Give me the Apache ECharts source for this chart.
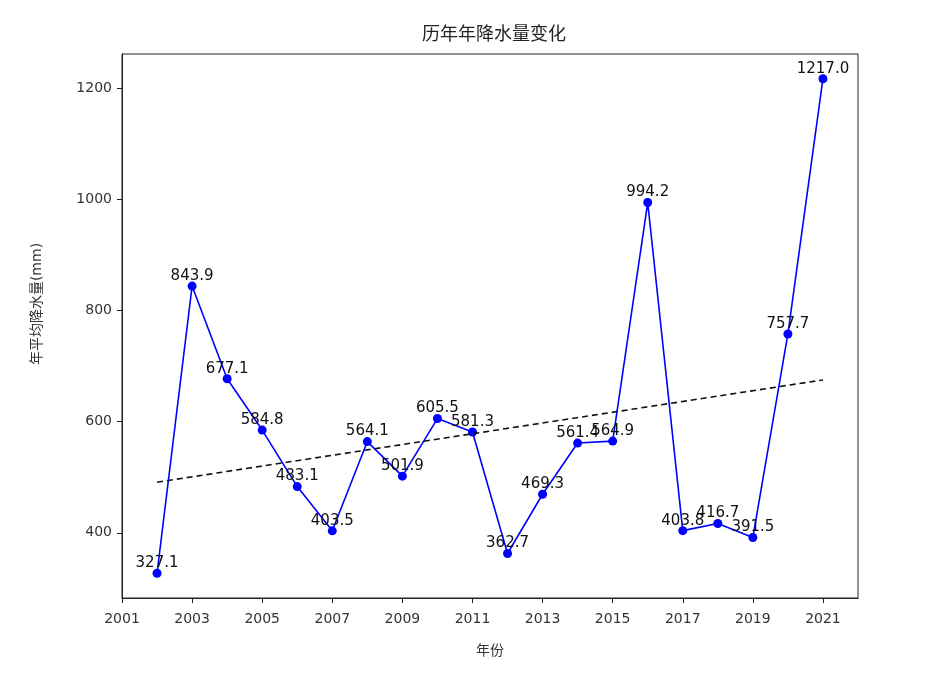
<!DOCTYPE html>
<html>
<head>
<meta charset="utf-8">
<script src="https://cdn.jsdelivr.net/npm/echarts@6/dist/echarts.min.js"></script>
<style>html,body{margin:0;padding:0;background:#fff;}#chart{width:929px;height:682px;}</style>
</head>
<body>
<div id="chart"></div>
<script>
var years = [2002,2003,2004,2005,2006,2007,2008,2009,2010,2011,2012,2013,2014,2015,2016,2017,2018,2019,2020,2021];
var rainfall = [327.1,843.9,677.1,584.8,483.1,403.5,564.1,501.9,605.5,581.3,362.7,469.3,561.4,564.9,994.2,403.8,416.7,391.5,757.7,1217.0];
var trendYears = [2002, 2021];
var trendValues = [491, 675];
var titleText = '历年年降水量变化';
var xName = '年份';
var yName = '年平均降水量(mm)';

var font = 'DejaVu Sans, "Noto Sans CJK SC", sans-serif';
var chart = echarts.init(document.getElementById('chart'), null, {renderer: 'canvas'});
var mainData = years.map(function (y, i) { return [y, rainfall[i]]; });
var trendData = trendYears.map(function (y, i) { return [y, trendValues[i]]; });

chart.setOption({
  animation: false,
  backgroundColor: '#ffffff',
  textStyle: {fontFamily: font},
  title: {
    text: titleText,
    left: 489, top: 21, textAlign: 'center',
    textStyle: {fontSize: 18, fontWeight: 'normal', color: '#222', fontFamily: font}
  },
  grid: {left: 122, right: 71, top: 54, bottom: 84, show: true, borderColor: '#222', borderWidth: 1, backgroundColor: 'transparent'},
  xAxis: {
    type: 'value', min: 2001, max: 2022, interval: 2,
    name: xName, nameLocation: 'middle', nameGap: 46,
    nameTextStyle: {fontSize: 14, color: '#333', fontFamily: font},
    axisLine: {show: true, onZero: false, lineStyle: {color: '#222'}},
    axisTick: {show: true, length: 5, inside: false, lineStyle: {color: '#222'}},
    axisLabel: {fontSize: 14, color: '#333', margin: 14, showMaxLabel: false, formatter: function (v) { return String(v); }},
    splitLine: {show: false}
  },
  yAxis: {
    type: 'value', min: 282.6, max: 1261.5, splitNumber: 5,
    name: yName, nameLocation: 'middle', nameGap: 78, nameRotate: 90,
    nameTextStyle: {fontSize: 14, color: '#333', fontFamily: font, padding: [0, 0, 0, 44]},
    axisLine: {show: true, onZero: false, lineStyle: {color: '#222'}},
    axisTick: {show: true, length: 5, lineStyle: {color: '#222'}},
    axisLabel: {fontSize: 14, color: '#333', margin: 10, showMinLabel: false, showMaxLabel: false, formatter: function (v) { return String(v); }},
    splitLine: {show: false}
  },
  series: [
    {
      type: 'line', data: mainData,
      symbol: 'circle', symbolSize: 9,
      itemStyle: {color: '#0000ff'},
      lineStyle: {color: '#0000ff', width: 1.6},
      label: {
        show: true, position: 'top', distance: -2,
        fontSize: 15, color: '#111', fontFamily: font,
        formatter: function (p) { return p.value[1].toFixed(1); }
      },
      z: 2
    },
    {
      type: 'line', data: trendData,
      symbol: 'none',
      lineStyle: {color: '#111', width: 1.6, type: [6, 4]},
      silent: true,
      z: 3
    }
  ]
});
</script>
</body>
</html>
